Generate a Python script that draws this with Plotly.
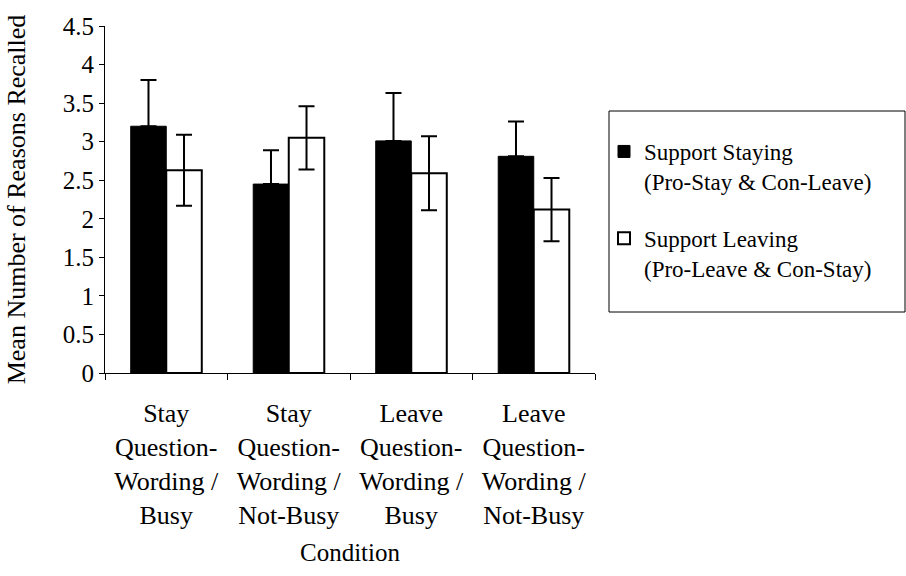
import plotly.graph_objects as go

categories = [
    "Stay<br>Question-<br>Wording /<br>Busy",
    "Stay<br>Question-<br>Wording /<br>Not-Busy",
    "Leave<br>Question-<br>Wording /<br>Busy",
    "Leave<br>Question-<br>Wording /<br>Not-Busy",
]
staying_mean = [3.20, 2.45, 3.01, 2.81]
staying_err = [0.60, 0.44, 0.62, 0.45]
leaving_mean = [2.63, 3.05, 2.59, 2.12]
leaving_err = [0.46, 0.41, 0.48, 0.41]
y_ticks = [0, 0.5, 1, 1.5, 2, 2.5, 3, 3.5, 4, 4.5]
y_tick_text = ["0", "0.5", "1", "1.5", "2", "2.5", "3", "3.5", "4", "4.5"]

FONT = "Liberation Serif"

# plot area in pixels
L, R, T, B = 105, 311, 26, 203
W, H = 906, 576
PW, PH = W - L - R, H - T - B

def px_x(p):
    return (p - L) / PW

def px_y(p):
    return (H - B - p) / PH

fig = go.Figure()
fig.add_trace(go.Bar(
    x=categories, y=staying_mean,
    name="Support Staying<br>(Pro-Stay & Con-Leave)",
    legendgroup="a",
    marker=dict(color="#000000", line=dict(color="#000000", width=1)),
    error_y=dict(type="data", array=staying_err, symmetric=False,
                 arrayminus=[0, 0, 0, 0],
                 color="#000000", thickness=2, width=8),
))
fig.add_trace(go.Bar(
    x=categories, y=leaving_mean,
    name="Support Leaving<br>(Pro-Leave & Con-Stay)",
    legendgroup="b",
    marker=dict(color="#ffffff", line=dict(color="#000000", width=2)),
    error_y=dict(type="data", array=leaving_err, symmetric=True,
                 color="#000000", thickness=2, width=8),
))

fig.update_layout(
    width=W, height=H,
    margin=dict(l=L, r=R, t=T, b=B, pad=0),
    paper_bgcolor="white", plot_bgcolor="white",
    barmode="group", bargap=0.42, bargroupgap=0,
    font=dict(family=FONT, color="#000000", size=24),
    showlegend=True,
    legend=dict(
        x=px_x(604), xanchor="left",
        y=px_y(130), yanchor="top",
        bgcolor="rgba(0,0,0,0)", borderwidth=0,
        font=dict(family=FONT, size=23, color="#000000"),
        valign="top", tracegroupgap=24,
        traceorder="grouped",
    ),
    shapes=[dict(
        type="rect", xref="paper", yref="paper",
        x0=px_x(609), x1=px_x(905), y0=px_y(312), y1=px_y(111),
        line=dict(color="#000000", width=1), fillcolor="rgba(0,0,0,0)",
    )],
)

fig.update_xaxes(
    showline=True, linecolor="#000000", linewidth=1,
    ticks="outside", ticklen=6, tickcolor="#000000", tickson="boundaries",
    tickfont=dict(family=FONT, size=26),
    ticklabelstandoff=17,
    title=dict(text="Condition", font=dict(family=FONT, size=25), standoff=14),
    showgrid=False, zeroline=False,
)
fig.update_yaxes(
    range=[0, 4.5],
    tickvals=y_ticks, ticktext=y_tick_text,
    showline=True, linecolor="#000000", linewidth=1,
    ticks="outside", ticklen=5, tickcolor="#000000",
    tickfont=dict(family=FONT, size=25),
    title=dict(text="Mean Number of Reasons Recalled",
               font=dict(family=FONT, size=26), standoff=29),
    showgrid=False, zeroline=False,
)

fig.write_html("out.html", config={"displayModeBar": False},
               post_script="document.body.style.margin='0';")
